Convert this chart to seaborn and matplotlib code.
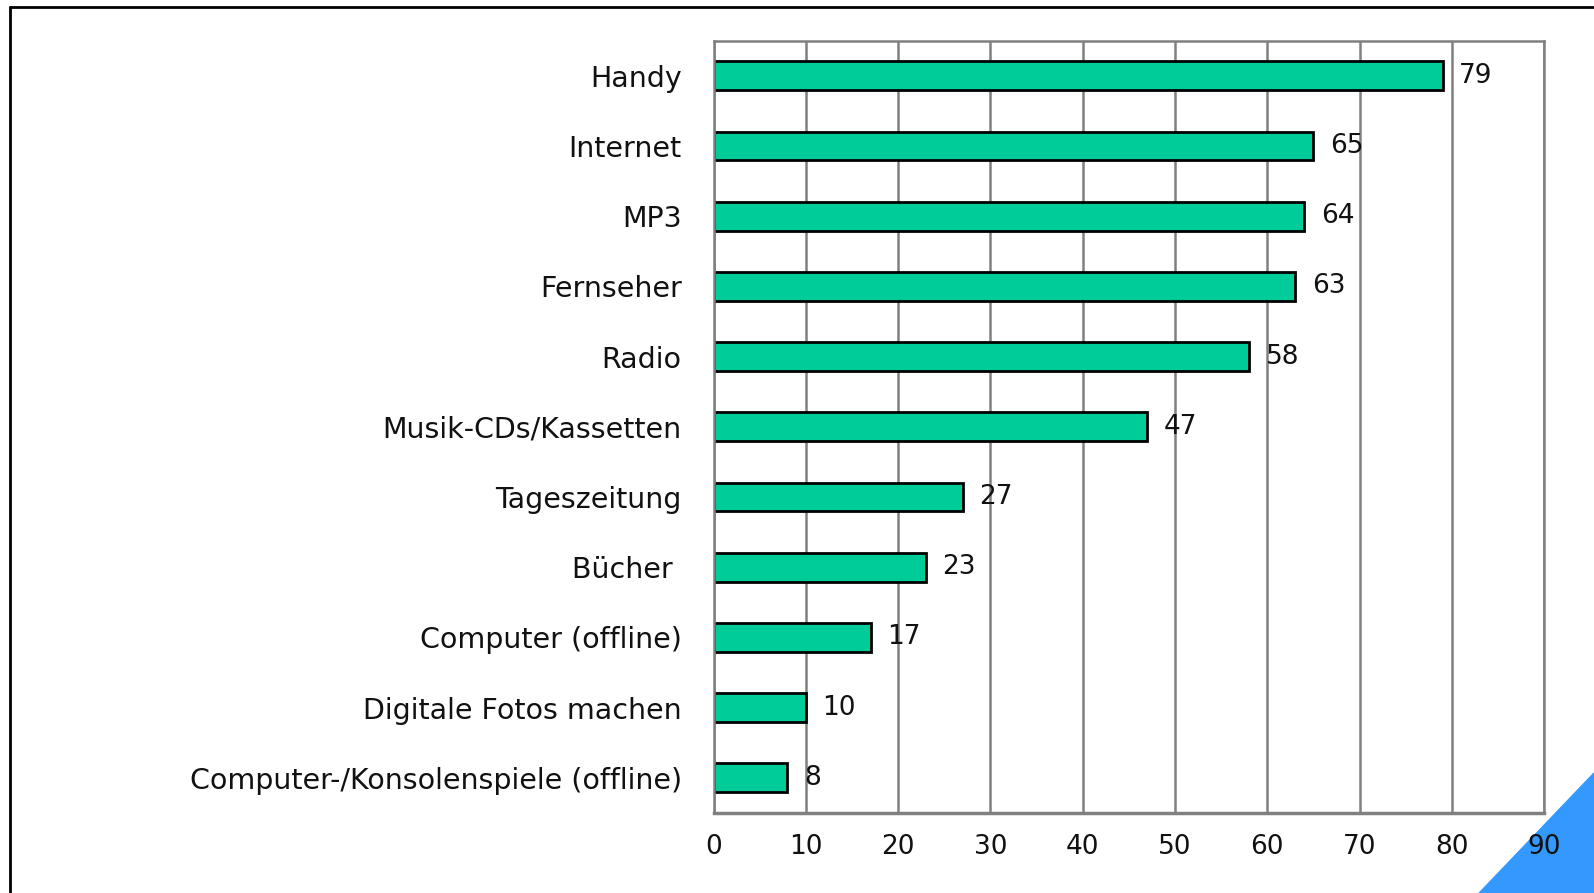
import numpy as np
import pandas as pd
import matplotlib.pyplot as plt
from matplotlib.lines import Line2D
from matplotlib.patches import Polygon
import seaborn as sns

# Data
categories = ['Handy', 'Internet', 'MP3', 'Fernseher', 'Radio',
              'Musik-CDs/Kassetten', 'Tageszeitung', 'Bücher ',
              'Computer (offline)', 'Digitale Fotos machen',
              'Computer-/Konsolenspiele (offline)']
values = [79, 65, 64, 63, 58, 47, 27, 23, 17, 10, 8]
x_ticks = [0, 10, 20, 30, 40, 50, 60, 70, 80, 90]

df = pd.DataFrame({'Medium': categories, 'Wert': values})

sns.set_style('white')
plt.rcParams['font.family'] = ['DejaVu Sans']

fig = plt.figure(figsize=(15.94, 8.93), dpi=100)
ax = fig.add_axes([0.4477, 0.0896, 0.5210, 0.8648])

sns.barplot(data=df, x='Wert', y='Medium', orient='h', color='#00CC99',
            saturation=1, width=0.41, edgecolor='black', linewidth=2, ax=ax)

ax.set_xlim(0, 90)
ax.set_ylim(len(categories) - 0.5, -0.5)
ax.set_xticks(x_ticks)
ax.set_xticklabels([str(t) for t in x_ticks], fontsize=19, color='#111111')
ax.set_xlabel('')
ax.set_ylabel('')

# grid and spines
grey = '#808080'
ax.xaxis.grid(True, color=grey, linewidth=1.8)
ax.set_axisbelow(True)
for s in ax.spines.values():
    s.set_color(grey)
    s.set_linewidth(1.8)
ax.spines['bottom'].set_linewidth(2.5)

# y ticks: labels at bars, tick marks between bars
ax.tick_params(axis='y', which='major', length=0, pad=23, labelsize=20.5,
               labelcolor='#111111')
ax.set_yticks(np.arange(-0.5, len(categories), 1), minor=True)
ax.tick_params(axis='y', which='minor', length=10, width=1.8, color=grey)
ax.tick_params(axis='x', which='major', length=6, width=1.8, color=grey,
               pad=9)

# value labels
ax.bar_label(ax.containers[0], labels=[str(v) for v in values], padding=12,
             fontsize=19, color='#111111')

# slide frame and corner decoration
fig.add_artist(Line2D([0.0063, 0.0063], [0.0, 0.992], transform=fig.transFigure,
                      color='black', linewidth=2))
fig.add_artist(Line2D([0.0063, 1.0], [0.992, 0.992], transform=fig.transFigure,
                      color='black', linewidth=2))
fig.add_artist(Polygon([[0.928, 0.0], [1.0, 0.1344], [1.0, 0.0]], closed=True,
                       transform=fig.transFigure, color='#3399FF', zorder=-1))

plt.savefig('out.png', dpi=100)
plt.close()
